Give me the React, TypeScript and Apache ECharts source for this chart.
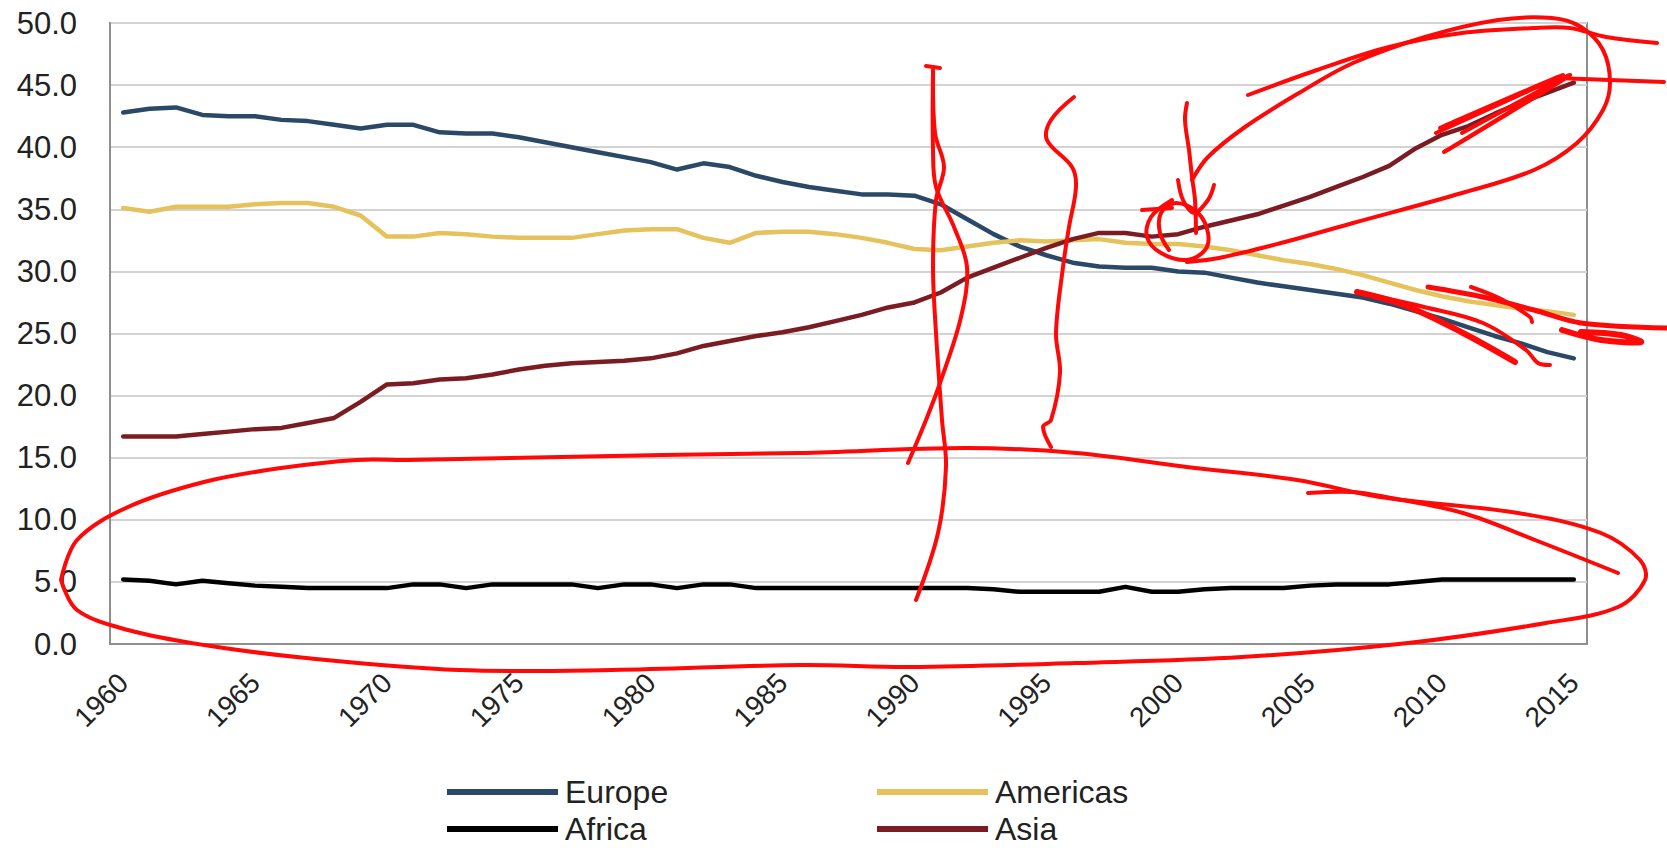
import React, { useEffect, useRef } from "react";
import * as echarts from "echarts";

const years = [
  "1960","1961","1962","1963","1964","1965","1966","1967","1968","1969",
  "1970","1971","1972","1973","1974","1975","1976","1977","1978","1979",
  "1980","1981","1982","1983","1984","1985","1986","1987","1988","1989",
  "1990","1991","1992","1993","1994","1995","1996","1997","1998","1999",
  "2000","2001","2002","2003","2004","2005","2006","2007","2008","2009",
  "2010","2011","2012","2013","2014","2015",
];

const europe = [
  42.8, 43.1, 43.2, 42.6, 42.5, 42.5, 42.2, 42.1, 41.8, 41.5,
  41.8, 41.8, 41.2, 41.1, 41.1, 40.8, 40.4, 40.0, 39.6, 39.2,
  38.8, 38.2, 38.7, 38.4, 37.7, 37.2, 36.8, 36.5, 36.2, 36.2,
  36.1, 35.4, 34.2, 33.0, 32.0, 31.3, 30.7, 30.4, 30.3, 30.3,
  30.0, 29.9, 29.5, 29.1, 28.8, 28.5, 28.2, 27.9, 27.4, 26.8,
  26.2, 25.5, 24.8, 24.2, 23.5, 23.0,
];

const americas = [
  35.1, 34.8, 35.2, 35.2, 35.2, 35.4, 35.5, 35.5, 35.2, 34.5,
  32.8, 32.8, 33.1, 33.0, 32.8, 32.7, 32.7, 32.7, 33.0, 33.3,
  33.4, 33.4, 32.7, 32.3, 33.1, 33.2, 33.2, 33.0, 32.7, 32.3,
  31.8, 31.7, 32.0, 32.3, 32.5, 32.4, 32.5, 32.6, 32.3, 32.2,
  32.2, 32.0, 31.7, 31.3, 30.9, 30.6, 30.2, 29.7, 29.1, 28.5,
  28.0, 27.6, 27.3, 27.0, 26.8, 26.5,
];

const africa = [
  5.2, 5.1, 4.8, 5.1, 4.9, 4.7, 4.6, 4.5, 4.5, 4.5,
  4.5, 4.8, 4.8, 4.5, 4.8, 4.8, 4.8, 4.8, 4.5, 4.8,
  4.8, 4.5, 4.8, 4.8, 4.5, 4.5, 4.5, 4.5, 4.5, 4.5,
  4.5, 4.5, 4.5, 4.4, 4.2, 4.2, 4.2, 4.2, 4.6, 4.2,
  4.2, 4.4, 4.5, 4.5, 4.5, 4.7, 4.8, 4.8, 4.8, 5.0,
  5.2, 5.2, 5.2, 5.2, 5.2, 5.2,
];

const asia = [
  16.7, 16.7, 16.7, 16.9, 17.1, 17.3, 17.4, 17.8, 18.2, 19.5,
  20.9, 21.0, 21.3, 21.4, 21.7, 22.1, 22.4, 22.6, 22.7, 22.8,
  23.0, 23.4, 24.0, 24.4, 24.8, 25.1, 25.5, 26.0, 26.5, 27.1,
  27.5, 28.3, 29.5, 30.3, 31.1, 31.9, 32.6, 33.1, 33.1, 32.8,
  33.0, 33.6, 34.1, 34.6, 35.3, 36.0, 36.8, 37.6, 38.5, 39.9,
  41.0, 41.7, 42.7, 43.6, 44.4, 45.2,
];

const seriesNames = ["Europe", "Americas", "Africa", "Asia"];
const seriesColors = ["#2b4866", "#e5c25c", "#000000", "#7a1c22"];

// Hand-drawn red annotation strokes (pixel coordinates of the picture)
const annotationStrokes: { pts: number[][]; w: number }[] = [
  {
    w: 4,
    pts: [
      [61, 580], [77, 540], [128, 507], [204, 482], [281, 468], [357, 460], [408, 460],
      [510, 458], [663, 455], [800, 453], [966, 448], [1076, 453], [1187, 467], [1297, 480],
      [1380, 497], [1518, 513], [1601, 533], [1640, 560], [1645, 580], [1618, 607],
      [1546, 623], [1408, 643], [1242, 657], [1076, 663], [910, 667], [800, 665], [612, 670],
      [459, 670], [306, 658], [204, 645], [128, 630], [77, 610], [61, 580],
    ],
  },
  { w: 4, pts: [[1308, 493], [1352, 492], [1386, 497], [1463, 513], [1535, 540], [1618, 573]] },
  {
    w: 4,
    pts: [[933, 70], [935, 133], [944, 167], [936, 200], [933, 267], [936, 333], [942, 420], [946, 467], [938, 533], [916, 600]],
  },
  {
    w: 4,
    pts: [[933, 73], [933, 150], [936, 187], [954, 227], [967, 267], [961, 317], [940, 383], [926, 420], [908, 463]],
  },
  { w: 4, pts: [[926, 66], [940, 68]] },
  {
    w: 4,
    pts: [[1074, 97], [1051, 120], [1047, 140], [1072, 167], [1076, 187], [1069, 227], [1063, 267], [1056, 333], [1060, 373], [1051, 420], [1043, 427], [1051, 447]],
  },
  {
    w: 4,
    pts: [
      [1192, 180], [1208, 157], [1245, 127], [1299, 93], [1353, 63], [1425, 37], [1498, 20], [1552, 18],
      [1581, 27], [1603, 50], [1610, 83], [1603, 110], [1577, 143], [1534, 170], [1462, 193], [1353, 223],
      [1281, 243], [1219, 258], [1187, 262],
    ],
  },
  { w: 4, pts: [[1248, 95], [1317, 70], [1389, 47], [1462, 33], [1534, 28], [1570, 28], [1606, 37], [1657, 43]] },
  { w: 4, pts: [[1556, 78], [1664, 82]] },
  { w: 4, pts: [[1436, 133], [1563, 75], [1440, 128], [1552, 83], [1444, 152], [1570, 75], [1462, 133]] },
  {
    w: 4,
    pts: [[1172, 200], [1151, 217], [1147, 237], [1161, 253], [1187, 260], [1205, 250], [1208, 233], [1198, 213], [1176, 203], [1161, 213], [1160, 233], [1169, 250]],
  },
  { w: 4, pts: [[1142, 210], [1172, 208]] },
  { w: 4, pts: [[1187, 103], [1185, 120], [1189, 150], [1192, 177], [1195, 200], [1196, 233]] },
  { w: 4, pts: [[1178, 180], [1183, 200], [1194, 213], [1208, 200], [1214, 185]] },
  { w: 6, pts: [[1357, 292], [1404, 305], [1463, 333], [1515, 362]] },
  { w: 4, pts: [[1361, 293], [1424, 307], [1483, 323], [1526, 350], [1538, 363], [1550, 365]] },
  { w: 5, pts: [[1428, 287], [1483, 297], [1534, 310], [1581, 323], [1667, 328]] },
  { w: 4, pts: [[1471, 287], [1503, 300], [1530, 317], [1532, 322]] },
  { w: 6, pts: [[1562, 330], [1601, 340], [1641, 342], [1621, 335], [1581, 332]] },
];

// legend placement: [name, left, top]
const legendSlots: [string, number, number][] = [
  ["Europe", 447, 776],
  ["Americas", 877, 776],
  ["Africa", 447, 813],
  ["Asia", 877, 813],
];

export default function App() {
  const ref = useRef<HTMLDivElement>(null);

  useEffect(() => {
    if (!ref.current) return;
    const chart = echarts.init(ref.current, undefined, { renderer: "svg" });
    const dataList = [europe, americas, africa, asia];
    const font = "'Liberation Sans', Arial, sans-serif";

    const option = {
      animation: false,
      backgroundColor: "#ffffff",
      grid: {
        left: 110,
        right: 80,
        top: 23,
        bottom: 204,
        show: true,
        borderColor: "#8f8f8f",
        borderWidth: 2,
        backgroundColor: "transparent",
      },
      legend: legendSlots.map(([name, left, top]) => ({
        data: [name],
        orient: "horizontal",
        left,
        top,
        icon: "rect",
        itemWidth: 111,
        itemHeight: 6,
        padding: 0,
        textStyle: { fontSize: 32, color: "#222", fontFamily: font, padding: [0, 0, 0, 2] },
      })),
      xAxis: {
        type: "category",
        data: years,
        boundaryGap: true,
        axisLine: { show: true, lineStyle: { color: "#8f8f8f", width: 2 } },
        axisTick: { show: false },
        axisLabel: {
          interval: 4,
          rotate: 45,
          margin: 34,
          fontSize: 28,
          color: "#222",
          fontFamily: font,
        },
        splitLine: { show: false },
      },
      yAxis: {
        type: "value",
        min: 0,
        max: 50,
        interval: 5,
        axisLine: { show: true, lineStyle: { color: "#8f8f8f", width: 2 } },
        axisTick: { show: false },
        axisLabel: {
          margin: 33,
          fontSize: 31,
          color: "#222",
          fontFamily: font,
          formatter: (v: number) => v.toFixed(1),
        },
        splitLine: { show: true, lineStyle: { color: "#d3d3d3", width: 2 } },
      },
      series: seriesNames.map((name, i) => ({
        name,
        type: "line",
        data: dataList[i],
        showSymbol: false,
        symbol: "none",
        color: seriesColors[i],
        lineStyle: { width: 4.5, color: seriesColors[i], cap: "round", join: "round" },
        z: 2 + i,
      })),
      graphic: annotationStrokes.map((s) => ({
        type: "polyline",
        z: 100,
        silent: true,
        shape: { points: s.pts, smooth: 0.35 },
        style: { stroke: "#ff0808", lineWidth: s.w, fill: null, lineCap: "round", lineJoin: "round" },
      })),
    };

    chart.setOption(option as any);
    return () => {
      chart.dispose();
    };
  }, []);

  return (
    <div
      ref={ref}
      style={{ position: "absolute", left: 0, top: 0, width: "1667px", height: "848px", background: "#fff" }}
    />
  );
}
